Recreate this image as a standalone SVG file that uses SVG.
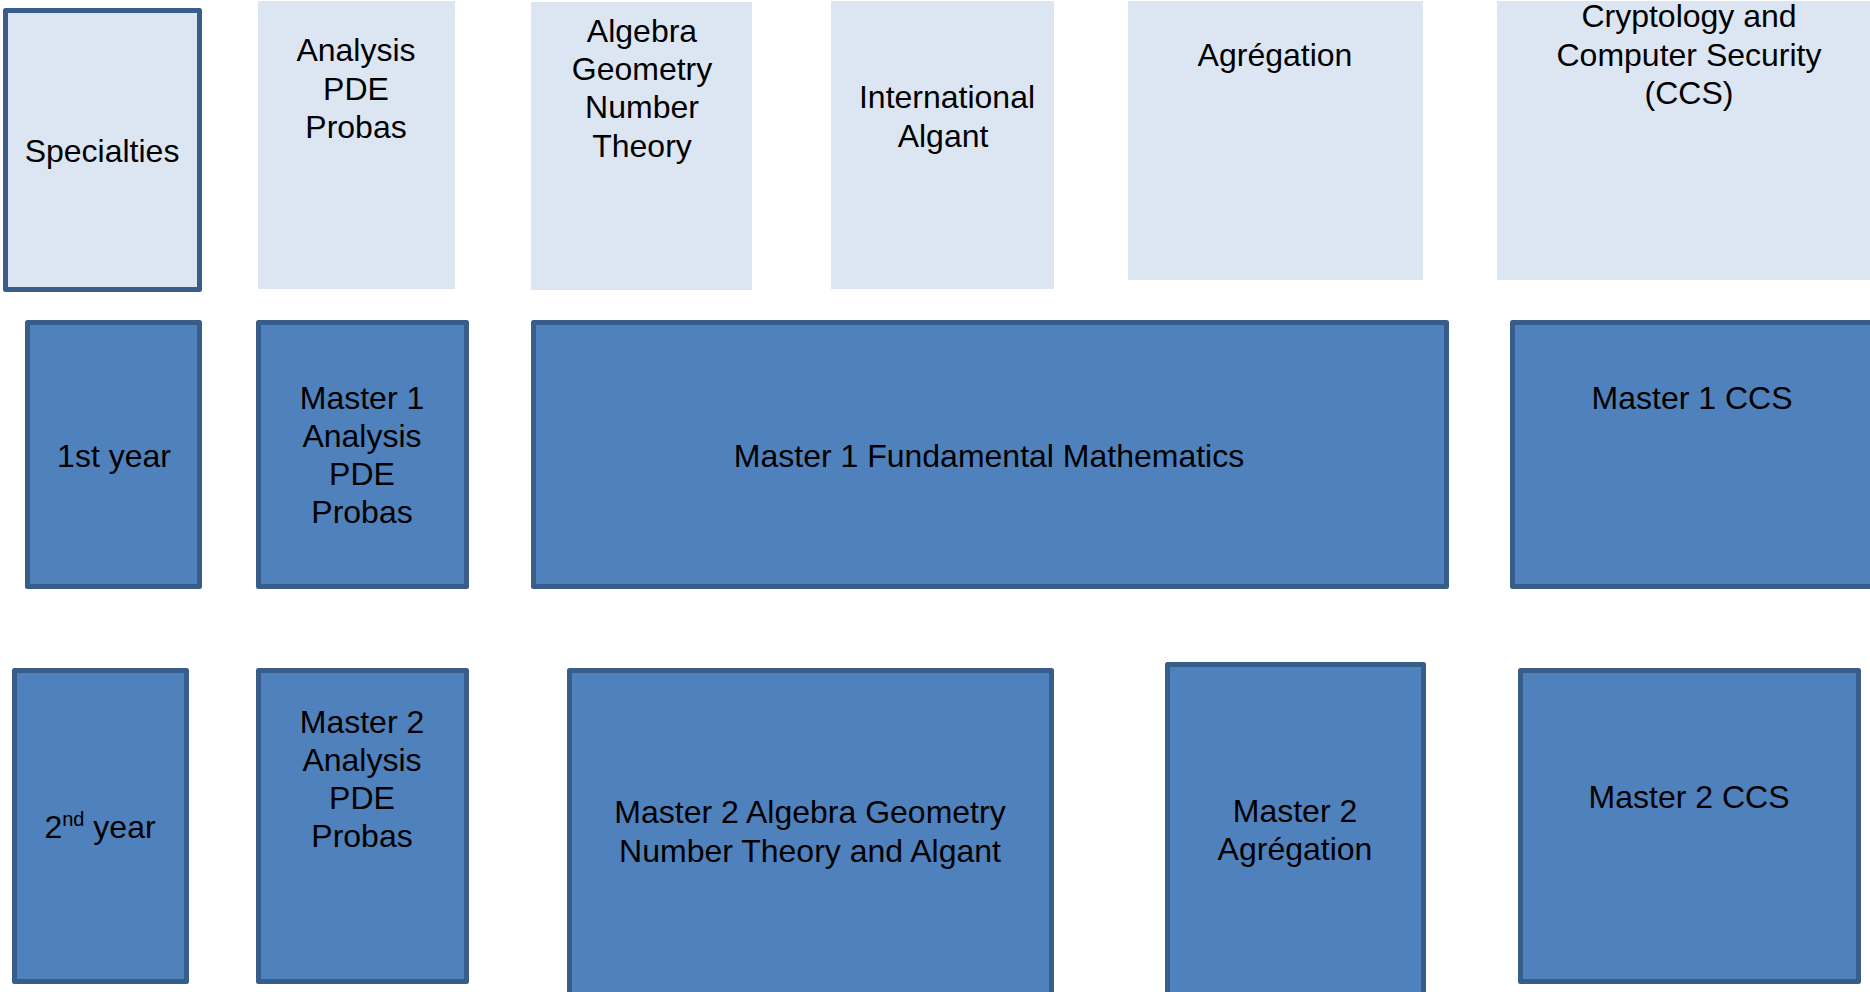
<svg xmlns="http://www.w3.org/2000/svg" width="1870" height="992" viewBox="0 0 1870 992">
<style>
.light{fill:#DCE6F2;}
.lightb{fill:#DCE6F2;stroke:#385D8A;stroke-width:5;stroke-linejoin:round;}
.blue{fill:#4F81BD;stroke:#385D8A;stroke-width:5;stroke-linejoin:round;}
text{font-family:"Liberation Sans",Arial,sans-serif;font-size:32px;fill:#000;text-anchor:middle;}
</style>
<rect width="1870" height="992" fill="#ffffff"/>
<g id="specialties"><rect class="lightb" x="5.5" y="10.5" width="194" height="279"/><text x="102" y="162">Specialties</text></g>
<g id="spec-analysis"><rect class="light" x="258" y="1" width="197" height="288"/><text x="356" y="61">Analysis</text><text x="356" y="100">PDE</text><text x="356" y="138">Probas</text></g>
<g id="spec-algebra"><rect class="light" x="531" y="2" width="221" height="288"/><text x="642" y="42">Algebra</text><text x="642" y="80">Geometry</text><text x="642" y="118">Number</text><text x="642" y="157">Theory</text></g>
<g id="spec-algant"><rect class="light" x="831" y="1" width="223" height="288"/><text x="947" y="108">International</text><text x="943" y="147">Algant</text></g>
<g id="spec-agregation"><rect class="light" x="1128" y="1" width="295" height="279"/><text x="1275" y="66">Agrégation</text></g>
<g id="spec-ccs"><rect class="light" x="1497" y="1" width="380" height="279"/><text x="1689" y="27">Cryptology and</text><text x="1689" y="66">Computer Security</text><text x="1689" y="104">(CCS)</text></g>
<g id="year1"><rect class="blue" x="27.5" y="322.5" width="172" height="264"/><text x="114" y="467">1st year</text></g>
<g id="m1-analysis"><rect class="blue" x="258.5" y="322.5" width="208" height="264"/><text x="362" y="409">Master 1</text><text x="362" y="447">Analysis</text><text x="362" y="485">PDE</text><text x="362" y="523">Probas</text></g>
<g id="m1-fundamental"><rect class="blue" x="533.5" y="322.5" width="913" height="264"/><text x="989" y="467">Master 1 Fundamental Mathematics</text></g>
<g id="m1-ccs"><rect class="blue" x="1512.5" y="322.5" width="370" height="264"/><text x="1692" y="409">Master 1 CCS</text></g>
<g id="year2"><rect class="blue" x="14.5" y="670.5" width="172" height="311"/><text x="100" y="838">2<tspan font-size="20" dy="-12">nd</tspan><tspan dy="12"> year</tspan></text></g>
<g id="m2-analysis"><rect class="blue" x="258.5" y="670.5" width="208" height="311"/><text x="362" y="733">Master 2</text><text x="362" y="771">Analysis</text><text x="362" y="809">PDE</text><text x="362" y="847">Probas</text></g>
<g id="m2-algebra"><rect class="blue" x="569.5" y="670.5" width="482" height="340"/><text x="810" y="823">Master 2 Algebra Geometry</text><text x="810" y="862">Number Theory and Algant</text></g>
<g id="m2-agregation"><rect class="blue" x="1167.5" y="664.5" width="256" height="340"/><text x="1295" y="822">Master 2</text><text x="1295" y="860">Agrégation</text></g>
<g id="m2-ccs"><rect class="blue" x="1520.5" y="670.5" width="338" height="311"/><text x="1689" y="808">Master 2 CCS</text></g>
<g id="connectors"></g>
</svg>
